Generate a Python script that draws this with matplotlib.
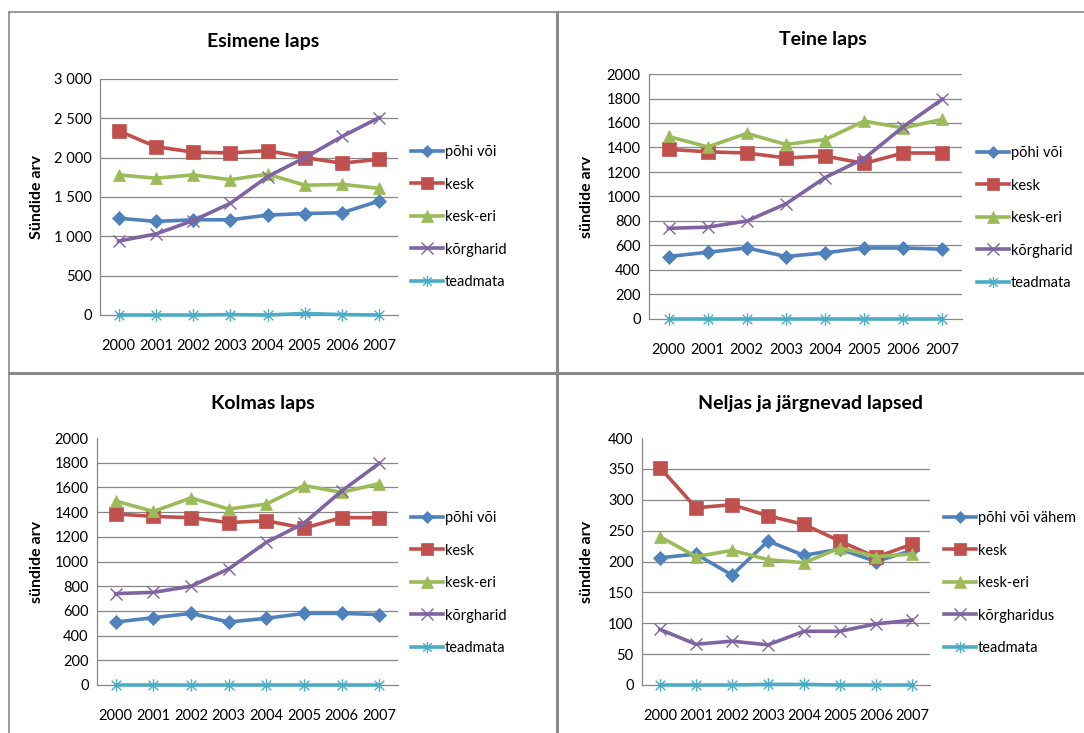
import matplotlib
matplotlib.use("Agg")
from matplotlib import pyplot as plt
from matplotlib.path import Path
from matplotlib.lines import Line2D
from matplotlib.ticker import FuncFormatter

plt.rcParams['font.family'] = ['Lato', 'DejaVu Sans']

years = ['2000', '2001', '2002', '2003', '2004', '2005', '2006', '2007']

# Esimene laps
p1_pohi = [1230, 1190, 1210, 1210, 1270, 1290, 1300, 1450]
p1_kesk = [2340, 2140, 2070, 2060, 2090, 2000, 1930, 1980]
p1_keskeri = [1780, 1740, 1780, 1720, 1790, 1650, 1660, 1610]
p1_korg = [940, 1030, 1200, 1420, 1760, 2000, 2270, 2510]
p1_teadmata = [0, 0, 0, 5, 0, 20, 5, 0]

# Teine laps
p2_pohi = [510, 545, 580, 510, 540, 580, 580, 570]
p2_kesk = [1385, 1365, 1355, 1315, 1330, 1270, 1355, 1355]
p2_keskeri = [1490, 1405, 1515, 1425, 1465, 1615, 1560, 1630]
p2_korg = [740, 750, 800, 940, 1155, 1310, 1570, 1795]
p2_teadmata = [0, 0, 0, 0, 0, 0, 0, 0]

# Kolmas laps
p3_pohi = [510, 545, 580, 510, 540, 580, 580, 570]
p3_kesk = [1385, 1365, 1355, 1315, 1330, 1270, 1355, 1355]
p3_keskeri = [1490, 1405, 1515, 1425, 1465, 1615, 1560, 1630]
p3_korg = [740, 750, 800, 940, 1155, 1310, 1570, 1795]
p3_teadmata = [0, 0, 0, 0, 0, 0, 0, 0]

# Neljas ja järgnevad lapsed
p4_pohi = [206, 212, 178, 233, 210, 220, 200, 218]
p4_kesk = [352, 287, 292, 274, 260, 233, 207, 228]
p4_keskeri = [240, 208, 218, 203, 198, 222, 208, 212]
p4_korg = [90, 66, 71, 65, 87, 87, 99, 105]
p4_teadmata = [0, 0, 0, 1, 1, 0, 0, 0]

labels_a = ['põhi või', 'kesk', 'kesk-eri', 'kõrgharid', 'teadmata']
labels_b = ['põhi või vähem', 'kesk', 'kesk-eri', 'kõrgharidus', 'teadmata']

colors = ['#4F81BD', '#C0504D', '#9BBB59', '#8064A2', '#4BACC6']

star = Path([(-1, -1), (1, 1), (-1, 1), (1, -1), (0, -1.3), (0, 1.3)],
            [Path.MOVETO, Path.LINETO, Path.MOVETO, Path.LINETO, Path.MOVETO, Path.LINETO])
markers = ['D', 's', '^', 'x', star]
msizes = [7, 10, 9, 9, 9]

W, H = 1084, 733
fig = plt.figure(figsize=(W / 100, H / 100), dpi=100)


def fx(px):
    return px / W


def fy(py):
    return 1 - py / H


# panel borders
bc = '#8a8a8a'
for xs, ys, lw in [((9, W), (12, 12), 1.2), ((9, 9), (12, H), 1.2),
                   ((557, 557), (12, H), 2.2), ((9, W), (373, 373), 2.2)]:
    fig.add_artist(Line2D([fx(xs[0]), fx(xs[1])], [fy(ys[0]), fy(ys[1])],
                          color=bc, lw=lw, transform=fig.transFigure))

panels = [
    dict(rect=(100, 79, 398, 315), ymax=3000, step=500, title='Esimene laps',
         ylabel='Sündide arv', data=[p1_pohi, p1_kesk, p1_keskeri, p1_korg, p1_teadmata],
         labels=labels_a, space=True, top_grid=True, title_xy=(263, 42), ylab_x=37,
         leg=(419, 152)),
    dict(rect=(649, 74, 962, 319), ymax=2000, step=200, title='Teine laps',
         ylabel='sündide arv', data=[p2_pohi, p2_kesk, p2_keskeri, p2_korg, p2_teadmata],
         labels=labels_a, space=False, top_grid=True, title_xy=(823, 40), ylab_x=587,
         leg=(985, 153)),
    dict(rect=(97, 438, 398, 685), ymax=2000, step=200, title='Kolmas laps',
         ylabel='sündide arv', data=[p3_pohi, p3_kesk, p3_keskeri, p3_korg, p3_teadmata],
         labels=labels_a, space=False, top_grid=False, title_xy=(263, 403), ylab_x=37,
         leg=(419, 518)),
    dict(rect=(642, 438, 930, 685), ymax=400, step=50, title='Neljas ja järgnevad lapsed',
         ylabel='sündide arv', data=[p4_pohi, p4_kesk, p4_keskeri, p4_korg, p4_teadmata],
         labels=labels_b, space=False, top_grid=False, title_xy=(810, 403), ylab_x=587,
         leg=(952, 518)),
]

for p in panels:
    x0, y0, x1, y1 = p['rect']
    ax = fig.add_axes([fx(x0), fy(y1), (x1 - x0) / W, (y1 - y0) / H])
    x = list(range(len(years)))
    handles = []
    for vals, lab, c, m, ms in zip(p['data'], p['labels'], colors, markers, msizes):
        mew = 1.0 if m in ('x',) or m is star else 0.5
        h, = ax.plot(x, vals, color=c, lw=2.6, marker=m, ms=ms, mec=c, mfc=c,
                     mew=mew, label=lab, clip_on=False, zorder=3)
        handles.append(h)
    ax.set_xlim(-0.5, 7.5)
    ax.set_ylim(0, p['ymax'])
    ticks = list(range(0, p['ymax'] + 1, p['step']))
    ax.set_yticks(ticks)
    if p['space']:
        ax.yaxis.set_major_formatter(FuncFormatter(lambda v, pos: f'{int(v):,}'.replace(',', ' ')))
    ax.set_xticks(x)
    ax.set_xticklabels(years)
    ax.tick_params(length=0, labelsize=10.5, colors='black', pad=6)
    ax.tick_params(axis='x', pad=17)
    gl = ticks[1:] if p['top_grid'] else ticks[1:-1]
    for g in gl:
        ax.axhline(g, color='#878787', lw=0.9, zorder=1)
    for s in ['top', 'right']:
        ax.spines[s].set_visible(False)
    ax.spines['left'].set_color('#878787')
    ax.spines['bottom'].set_color('#878787')
    ax.spines['left'].set_linewidth(0.9)
    ax.spines['bottom'].set_linewidth(0.9)
    fig.text(fx(p['title_xy'][0]), fy(p['title_xy'][1]), p['title'], ha='center', va='center',
             fontsize=14, fontweight='bold')
    fig.text(fx(p['ylab_x']), fy((y0 + y1) / 2), p['ylabel'], ha='center', va='center',
             rotation=90, fontsize=11.5, fontweight='bold')
    lx, ly = p['leg']
    fig.legend(handles=handles, loc='upper left',
               bbox_to_anchor=(fx(lx - 8), fy(ly - 7)), frameon=False, fontsize=10.5,
               handlelength=2.2, handletextpad=0.1, labelspacing=1.27, borderaxespad=0,
               borderpad=0, markerscale=0.9)

fig.savefig('out.png', dpi=100)
